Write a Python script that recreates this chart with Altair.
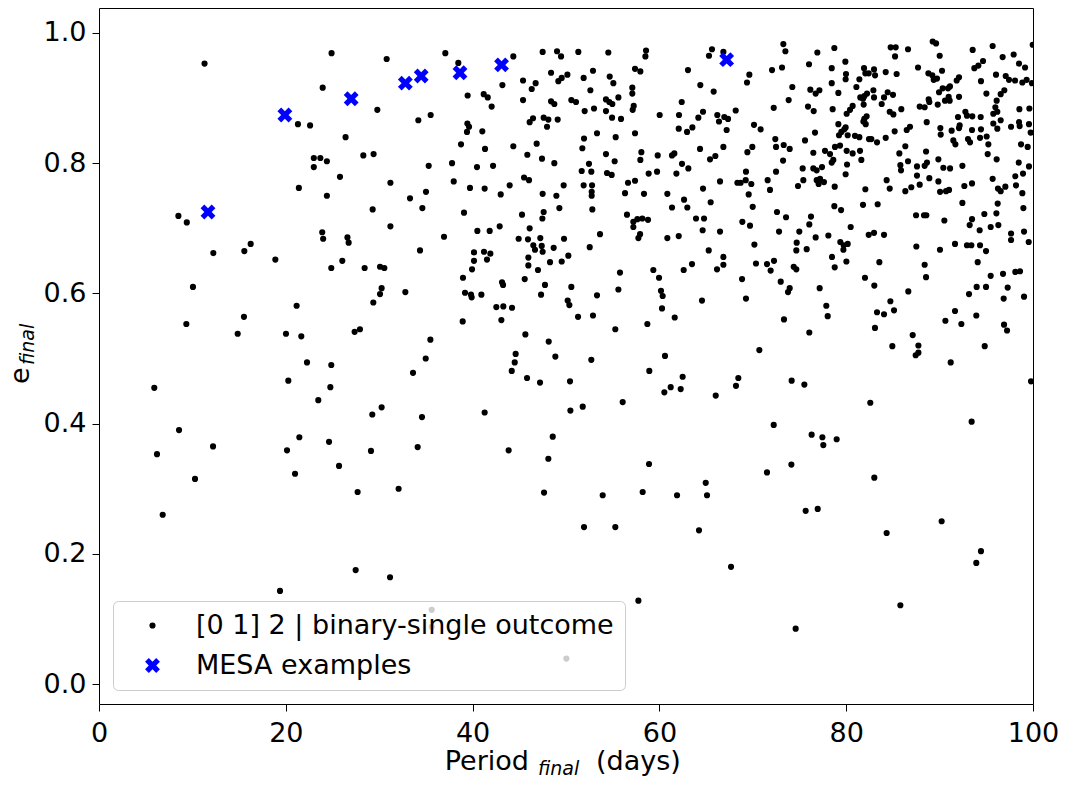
import altair as alt
import pandas as pd

SERIES = ["[0 1] 2 | binary-single outcome", "MESA examples"]

# MESA example systems (blue crosses)
mesa_period = [11.67, 19.9, 27.0, 32.8, 34.5, 38.65, 43.1, 67.2]
mesa_ecc = [0.725, 0.874, 0.899, 0.923, 0.934, 0.939, 0.951, 0.959]

# binary-single outcome points
period_a = [11.3, 24.9, 30.8, 23.95, 29.8, 21.3, 22.6, 26.4, 23.0, 23.7,
            24.4, 23.0, 28.3, 29.4, 25.8, 21.4, 24.4, 31.2, 33.3, 8.5,
            9.4, 29.3, 31.2, 23.9, 24.0, 26.6]
ecc_a = [0.953, 0.969, 0.960, 0.916, 0.882, 0.860, 0.858, 0.840, 0.808, 0.808,
         0.803, 0.794, 0.812, 0.814, 0.779, 0.762, 0.750, 0.770, 0.746, 0.719,
         0.709, 0.729, 0.703, 0.694, 0.684, 0.686]

period_b = [37.08, 38.47, 44.36, 47.50, 49.04, 49.47, 51.32, 54.53, 58.57, 58.50,
            65.63, 65.31, 66.85, 43.19, 48.40, 49.18, 49.54, 50.15, 52.89, 51.89,
            54.68, 55.07, 57.39, 57.96, 63.06, 45.40, 46.75, 46.33, 52.61, 57.10,
            57.10, 55.61, 64.38, 65.81, 39.47, 41.19, 41.62, 42.04, 45.40, 48.40,
            48.75, 50.57, 51.07, 54.28, 54.64, 54.96, 52.00, 53.00, 54.28, 57.25,
            57.14, 62.39, 60.03, 62.10, 64.17, 64.67, 66.20, 66.38, 34.19, 35.51,
            39.44, 39.62, 39.40, 41.04, 46.11, 46.47, 47.61, 48.11, 47.97, 49.11,
            54.93, 55.89, 38.76, 41.33, 44.36, 46.86, 51.93, 53.32, 55.32, 57.39,
            51.75, 62.07, 62.96, 63.53, 64.35, 66.85, 35.30, 37.80, 40.47, 42.19,
            45.86, 47.43, 48.75, 54.28, 55.21, 52.46, 51.68, 52.71, 54.39, 54.89,
            58.07, 57.96, 59.82, 61.35, 61.60, 62.42, 63.10, 58.85, 59.75, 61.82,
            65.42, 65.99, 66.49, 37.98, 39.72, 41.29, 43.97, 45.51, 46.04, 49.75,
            51.89, 52.79, 52.75, 52.75, 56.64, 57.39, 56.32, 58.35, 60.85, 64.67,
            62.64, 62.99, 61.35, 65.49, 35.01, 34.62, 39.08, 43.01, 47.50, 48.97,
            49.29, 52.82, 45.29, 47.61, 47.47, 56.53, 57.21, 57.64, 58.17, 58.78,
            57.21, 63.92, 64.78, 64.63, 66.49, 40.51, 41.83, 42.90, 46.11, 36.94,
            44.93, 45.93, 47.25, 49.79, 53.64, 57.75, 57.93, 60.85, 62.07]
ecc_b = [0.969, 0.954, 0.964, 0.971, 0.972, 0.964, 0.971, 0.970, 0.973, 0.964,
         0.975, 0.965, 0.971, 0.920, 0.939, 0.926, 0.931, 0.936, 0.942, 0.931,
         0.933, 0.923, 0.945, 0.941, 0.943, 0.927, 0.923, 0.914, 0.912, 0.916,
         0.907, 0.901, 0.920, 0.910, 0.904, 0.906, 0.901, 0.887, 0.897, 0.895,
         0.891, 0.897, 0.894, 0.898, 0.894, 0.891, 0.880, 0.884, 0.880, 0.888,
         0.882, 0.894, 0.874, 0.874, 0.870, 0.879, 0.874, 0.864, 0.866, 0.874,
         0.861, 0.856, 0.848, 0.849, 0.863, 0.869, 0.870, 0.867, 0.856, 0.867,
         0.870, 0.868, 0.829, 0.822, 0.826, 0.830, 0.838, 0.846, 0.840, 0.846,
         0.823, 0.853, 0.848, 0.855, 0.822, 0.825, 0.796, 0.800, 0.794, 0.796,
         0.813, 0.807, 0.800, 0.814, 0.803, 0.799, 0.788, 0.787, 0.785, 0.782,
         0.817, 0.805, 0.812, 0.812, 0.815, 0.799, 0.792, 0.784, 0.787, 0.784,
         0.806, 0.811, 0.772, 0.772, 0.762, 0.761, 0.766, 0.778, 0.774, 0.766,
         0.766, 0.766, 0.756, 0.750, 0.770, 0.773, 0.754, 0.753, 0.753, 0.761,
         0.744, 0.732, 0.732, 0.740, 0.756, 0.731, 0.724, 0.752, 0.753, 0.750,
         0.731, 0.729, 0.721, 0.725, 0.715, 0.721, 0.710, 0.714, 0.715, 0.713,
         0.702, 0.715, 0.715, 0.697, 0.695, 0.696, 0.696, 0.703, 0.700, 0.687,
         0.684, 0.683, 0.685, 0.684, 0.691, 0.685, 0.691, 0.685, 0.688]

period_c = [34.37, 40.15, 41.22, 41.90, 41.54, 40.15, 39.94, 38.97, 39.19, 39.83,
            39.90, 40.94, 38.94, 46.50, 47.40, 46.68, 47.50, 45.97, 45.97, 47.00,
            48.29, 49.54, 50.25, 48.68, 52.54, 45.58, 43.15, 43.26, 47.75, 47.33,
            50.57, 50.18, 50.36, 53.32, 42.54, 43.29, 44.22, 43.08, 51.29, 52.89,
            55.78, 55.61, 59.35, 59.96, 60.17, 60.35, 60.28, 61.64, 58.71, 55.28,
            62.60, 63.49, 65.28, 66.17, 66.85, 66.85, 64.56, 35.48, 34.98, 33.62,
            45.65, 48.15, 44.61, 44.51, 44.19, 48.86, 52.71, 45.83, 47.22, 50.43,
            60.60, 58.92, 62.49, 61.21, 62.28, 60.53, 66.03, 56.07, 50.47, 51.79,
            41.29, 34.58, 34.12, 43.86, 48.58, 48.11, 58.89, 47.65, 53.93, 58.21,
            61.89, 64.96, 65.10, 51.93, 55.28, 64.24, 57.75, 35.62, 35.62, 50.04]
ecc_c = [0.666, 0.663, 0.664, 0.661, 0.652, 0.650, 0.637, 0.624, 0.601, 0.598,
         0.594, 0.598, 0.557, 0.674, 0.673, 0.667, 0.664, 0.655, 0.643, 0.636,
         0.648, 0.649, 0.658, 0.670, 0.671, 0.622, 0.617, 0.613, 0.613, 0.598,
         0.610, 0.589, 0.582, 0.597, 0.579, 0.580, 0.578, 0.559, 0.564, 0.566,
         0.632, 0.606, 0.636, 0.624, 0.604, 0.596, 0.577, 0.563, 0.553, 0.545,
         0.636, 0.645, 0.666, 0.637, 0.644, 0.656, 0.589, 0.529, 0.500, 0.478,
         0.537, 0.526, 0.507, 0.494, 0.481, 0.503, 0.498, 0.470, 0.463, 0.465,
         0.504, 0.481, 0.472, 0.456, 0.453, 0.448, 0.443, 0.433, 0.420, 0.426,
         0.417, 0.410, 0.364, 0.359, 0.380, 0.346, 0.338, 0.294, 0.290, 0.295,
         0.290, 0.309, 0.290, 0.241, 0.241, 0.236, 0.128, 0.114, 0.088, 0.039]

period_d = [26.73, 12.24, 15.56, 16.24, 18.88, 24.87, 26.05, 28.44, 30.09, 30.55,
            10.06, 30.26, 30.09, 29.37, 32.80, 21.16, 9.35, 15.52, 14.85, 20.02,
            21.66, 27.37, 27.94, 22.27, 24.87, 20.27, 24.77, 5.92, 23.48, 30.26,
            29.26, 8.57, 12.21, 6.21, 21.45, 24.63, 20.13, 29.12, 25.70, 20.99,
            10.28, 6.82, 27.69, 32.08, 27.48, 31.16, 19.38]
ecc_d = [0.678, 0.662, 0.665, 0.676, 0.652, 0.639, 0.650, 0.639, 0.641, 0.639,
         0.610, 0.608, 0.599, 0.586, 0.602, 0.581, 0.553, 0.564, 0.538, 0.538,
         0.534, 0.541, 0.545, 0.494, 0.490, 0.466, 0.456, 0.455, 0.436, 0.425,
         0.414, 0.390, 0.365, 0.353, 0.379, 0.372, 0.359, 0.358, 0.335, 0.323,
         0.315, 0.260, 0.295, 0.300, 0.175, 0.164, 0.143]

period_e = [70.17, 74.70, 74.66, 75.77, 79.37, 79.73, 80.16, 79.70, 78.48, 78.77,
            80.02, 70.34, 71.52, 72.27, 71.91, 74.38, 74.66, 68.85, 72.99, 73.95,
            73.77, 69.27, 77.16, 77.87, 78.02, 73.34, 76.05, 70.70, 83.55, 82.01,
            83.01, 86.65, 84.73, 85.12, 83.30, 84.05, 83.08, 87.12, 87.73, 87.73,
            87.44, 84.94, 87.51, 90.04, 91.65, 92.93, 93.40, 94.33, 94.97, 94.08,
            88.40, 88.55, 95.47, 93.97, 94.97, 93.15, 96.79, 98.11, 98.61, 97.29,
            96.86, 99.04, 97.65, 99.54, 91.65, 90.62, 92.33, 93.93, 96.90, 97.22,
            94.83, 91.19, 68.45, 68.20, 74.16, 75.52, 99.79, 82.58, 93.43, 72.24,
            76.30, 77.45, 77.55, 78.98, 74.13, 71.52, 83.01, 75.66, 76.95, 90.22,
            84.33, 67.67, 94.43, 93.93, 85.80, 74.59]
ecc_e = [0.675, 0.678, 0.666, 0.668, 0.679, 0.674, 0.676, 0.667, 0.656, 0.640,
         0.649, 0.646, 0.645, 0.650, 0.635, 0.641, 0.637, 0.622, 0.618, 0.608,
         0.602, 0.592, 0.608, 0.581, 0.565, 0.560, 0.540, 0.513, 0.648, 0.624,
         0.612, 0.603, 0.588, 0.574, 0.571, 0.568, 0.547, 0.536, 0.520, 0.509,
         0.505, 0.519, 0.672, 0.667, 0.676, 0.674, 0.674, 0.674, 0.665, 0.648,
         0.644, 0.625, 0.627, 0.610, 0.610, 0.599, 0.630, 0.633, 0.634, 0.609,
         0.592, 0.595, 0.682, 0.679, 0.573, 0.558, 0.553, 0.566, 0.552, 0.543,
         0.519, 0.494, 0.470, 0.458, 0.466, 0.460, 0.465, 0.432, 0.403, 0.398,
         0.383, 0.379, 0.367, 0.376, 0.337, 0.325, 0.317, 0.266, 0.269, 0.250,
         0.232, 0.180, 0.204, 0.186, 0.121, 0.085]

period_f = [73.27, 73.49, 78.73, 76.91, 79.91, 84.76, 85.30, 85.23, 86.62, 89.26,
            89.62, 90.01, 93.54, 95.68, 94.65, 94.15, 93.72, 96.75, 97.93, 98.50,
            99.15, 99.97, 76.02, 73.13, 72.06, 69.63, 69.38, 78.45, 81.91, 82.05,
            82.41, 82.98, 83.09, 81.41, 84.23, 85.40, 79.98, 79.94, 78.45, 87.69,
            88.80, 89.22, 89.37, 89.72, 90.26, 92.08, 91.83, 91.11, 90.90, 96.04,
            97.08, 97.43, 98.08, 98.86, 99.32, 99.89, 94.43, 74.23, 76.16, 76.73,
            77.13, 79.16, 81.09, 81.51, 81.94, 82.23, 82.91, 82.98, 81.87, 81.80,
            84.44, 85.01, 84.05, 83.80, 85.90, 87.87, 88.40, 88.83, 88.90, 89.80,
            89.94, 90.33, 90.97, 91.08, 90.58, 92.08, 95.01, 96.93, 96.54, 96.11,
            95.97, 96.18, 98.54, 99.61, 66.95, 67.35, 67.20, 68.17, 70.13, 70.84,
            72.24, 73.84, 75.91, 76.52, 78.55, 76.66, 75.59, 72.41, 72.49, 73.31,
            73.95, 69.95, 69.42, 79.16, 79.23, 79.48, 79.94, 79.80, 80.16, 80.05,
            80.41, 80.69, 81.94, 82.19, 82.09, 81.84, 80.94, 81.41, 82.44, 82.69,
            83.30, 84.23, 84.66, 85.05, 85.19, 86.48, 86.83, 88.62, 90.08, 90.12,
            91.29, 92.08, 92.15, 91.97, 92.76, 92.93, 93.50, 94.40, 93.47, 94.43,
            95.75, 95.75, 96.18, 96.54, 97.65, 98.50, 98.57, 99.57, 99.75, 86.33,
            85.69, 88.55, 91.47, 91.69, 93.04, 93.26, 94.33, 95.04, 95.22, 98.72,
            99.43, 95.15, 96.11]
ecc_f = [0.983, 0.972, 0.977, 0.970, 0.956, 0.978, 0.978, 0.964, 0.975, 0.987,
         0.984, 0.965, 0.974, 0.980, 0.957, 0.950, 0.946, 0.963, 0.967, 0.953,
         0.947, 0.982, 0.952, 0.947, 0.943, 0.936, 0.924, 0.946, 0.946, 0.938,
         0.938, 0.944, 0.935, 0.929, 0.940, 0.937, 0.937, 0.929, 0.923, 0.947,
         0.938, 0.935, 0.928, 0.930, 0.942, 0.932, 0.927, 0.918, 0.915, 0.936,
         0.934, 0.928, 0.927, 0.924, 0.928, 0.923, 0.926, 0.917, 0.913, 0.907,
         0.912, 0.908, 0.917, 0.901, 0.903, 0.907, 0.912, 0.901, 0.890, 0.899,
         0.909, 0.905, 0.901, 0.891, 0.883, 0.887, 0.886, 0.898, 0.894, 0.890,
         0.909, 0.915, 0.902, 0.896, 0.896, 0.902, 0.907, 0.912, 0.906, 0.896,
         0.886, 0.879, 0.883, 0.884, 0.871, 0.868, 0.851, 0.881, 0.859, 0.852,
         0.885, 0.897, 0.887, 0.880, 0.883, 0.847, 0.835, 0.837, 0.825, 0.828,
         0.822, 0.825, 0.817, 0.860, 0.843, 0.848, 0.855, 0.852, 0.843, 0.876,
         0.882, 0.888, 0.868, 0.872, 0.860, 0.864, 0.842, 0.840, 0.837, 0.837,
         0.832, 0.839, 0.879, 0.875, 0.849, 0.851, 0.856, 0.863, 0.854, 0.844,
         0.850, 0.854, 0.858, 0.871, 0.879, 0.873, 0.872, 0.871, 0.851, 0.852,
         0.876, 0.861, 0.853, 0.866, 0.856, 0.863, 0.857, 0.860, 0.847, 0.826,
         0.815, 0.818, 0.835, 0.829, 0.837, 0.832, 0.839, 0.841, 0.829, 0.829,
         0.825, 0.814, 0.806]

period_g = [69.27, 68.35, 68.70, 69.24, 69.84, 69.56, 69.99, 71.59, 71.84, 72.49,
            73.24, 75.34, 75.41, 74.84, 76.48, 76.48, 76.84, 77.41, 76.84, 77.20,
            77.05, 77.62, 77.73, 78.27, 78.80, 79.34, 78.45, 78.62, 80.05, 80.69,
            81.48, 81.62, 80.09, 79.94, 78.77, 82.05, 83.37, 81.80, 78.73, 79.45,
            84.33, 84.66, 85.80, 85.87, 86.62, 86.33, 86.97, 87.87, 87.58, 87.58,
            88.40, 88.65, 88.90, 89.87, 90.40, 91.12, 89.87, 90.05, 90.69, 91.01,
            92.44, 92.65, 93.47, 92.44, 95.68, 96.25, 96.54, 97.04, 96.22, 98.11,
            98.93, 98.18, 98.47, 99.57, 98.86, 98.97, 72.59, 73.56, 68.88, 69.70,
            76.23, 76.05, 72.81, 74.98, 76.73, 78.09, 80.48, 82.41, 82.98, 84.05,
            87.48, 88.33, 88.58, 90.51, 93.47, 93.22, 94.29, 94.79, 95.47, 96.08,
            96.29, 97.65, 99.04]
ecc_g = [0.787, 0.770, 0.770, 0.774, 0.768, 0.752, 0.733, 0.774, 0.759, 0.787,
         0.804, 0.792, 0.774, 0.765, 0.816, 0.792, 0.789, 0.794, 0.774, 0.776,
         0.768, 0.771, 0.819, 0.814, 0.825, 0.827, 0.801, 0.805, 0.819, 0.815,
         0.819, 0.805, 0.798, 0.783, 0.764, 0.760, 0.737, 0.736, 0.734, 0.728,
         0.774, 0.761, 0.797, 0.789, 0.803, 0.757, 0.763, 0.767, 0.795, 0.781,
         0.796, 0.801, 0.777, 0.806, 0.793, 0.792, 0.772, 0.756, 0.757, 0.759,
         0.796, 0.765, 0.769, 0.739, 0.776, 0.761, 0.757, 0.764, 0.738, 0.780,
         0.784, 0.766, 0.801, 0.795, 0.754, 0.731, 0.725, 0.717, 0.710, 0.704,
         0.718, 0.706, 0.695, 0.695, 0.686, 0.689, 0.702, 0.690, 0.693, 0.690,
         0.720, 0.720, 0.720, 0.712, 0.714, 0.705, 0.697, 0.722, 0.702, 0.723,
         0.705, 0.692, 0.695]

# ---------------------------------------------------------------------------
rows = []
for ps, es in [(period_a, ecc_a), (period_b, ecc_b), (period_c, ecc_c),
               (period_d, ecc_d), (period_e, ecc_e), (period_f, ecc_f),
               (period_g, ecc_g)]:
    for p, e in zip(ps, es):
        rows.append({"period": p, "ecc": e, "series": SERIES[0]})
for p, e in zip(mesa_period, mesa_ecc):
    rows.append({"period": p, "ecc": e, "series": SERIES[1]})
df = pd.DataFrame(rows)

FONT = "DejaVu Sans"
X_PATH = ("M-0.5,-1L0,-0.5L0.5,-1L1,-0.5L0.5,0L1,0.5L0.5,1L0,0.5"
          "L-0.5,1L-1,0.5L-0.5,0L-1,-0.5Z")

legend = alt.Legend(
    title=None, orient="bottom-left", offset=14,
    fillColor="rgba(255,255,255,0.8)", strokeColor="#cccccc", cornerRadius=5,
    padding=11, rowPadding=12, labelFont=FONT, labelFontSize=27,
    labelColor="black", labelLimit=1000, symbolOffset=15, labelOffset=30,
    symbolStrokeWidth=0,
)

points = alt.Chart(df).mark_point(
    filled=True, opacity=1, strokeWidth=0, clip=True
).encode(
    x=alt.X("period:Q",
            scale=alt.Scale(domain=[0, 100], nice=False, zero=False),
            axis=alt.Axis(values=[0, 20, 40, 60, 80, 100], title=None,
                          labelPadding=9, labelFlush=False)),
    y=alt.Y("ecc:Q",
            scale=alt.Scale(domain=[-0.0307, 1.0384], nice=False, zero=False),
            axis=alt.Axis(values=[0, 0.2, 0.4, 0.6, 0.8, 1.0], format=".1f",
                          title=None, labelPadding=6, labelFlush=False)),
    color=alt.Color("series:N", scale=alt.Scale(domain=SERIES, range=["black", "blue"]),
                    legend=legend),
    shape=alt.Shape("series:N", scale=alt.Scale(domain=SERIES, range=["circle", X_PATH]),
                    legend=legend),
    size=alt.Size("series:N", scale=alt.Scale(domain=SERIES, range=[38, 220]),
                  legend=legend),
)


def label(text, x, y, size, angle=0, italic=False, align="left"):
    return alt.Chart(pd.DataFrame({"t": [text]})).mark_text(
        align=align, baseline="alphabetic", font=FONT, fontSize=size,
        fontStyle="italic" if italic else "normal", angle=angle, color="black",
    ).encode(x=alt.value(x), y=alt.value(y), text="t:N")


xt1 = label("Period", 430, 762, 27, align="right")
xt2 = label("final", 439, 767, 19, italic=True)
xt3 = label("(days)", 497, 762, 27)
yt1 = label("e", -70, 376, 27, angle=270)
yt2 = label("final", -65, 357, 19, angle=270, italic=True)

chart = alt.layer(points, xt1, xt2, xt3, yt1, yt2).properties(
    width=934, height=696,
    autosize=alt.AutoSizeParams(type="none"),
    padding={"left": 91, "top": 0, "right": 30, "bottom": 75},
).configure_view(
    stroke="black", strokeWidth=1
).configure_axis(
    domain=False, grid=False, tickColor="black", tickSize=7, tickWidth=1,
    labelFont=FONT, labelFontSize=27, labelColor="black",
)

chart.save("out.html", embed_options={"renderer": "svg", "actions": False})
